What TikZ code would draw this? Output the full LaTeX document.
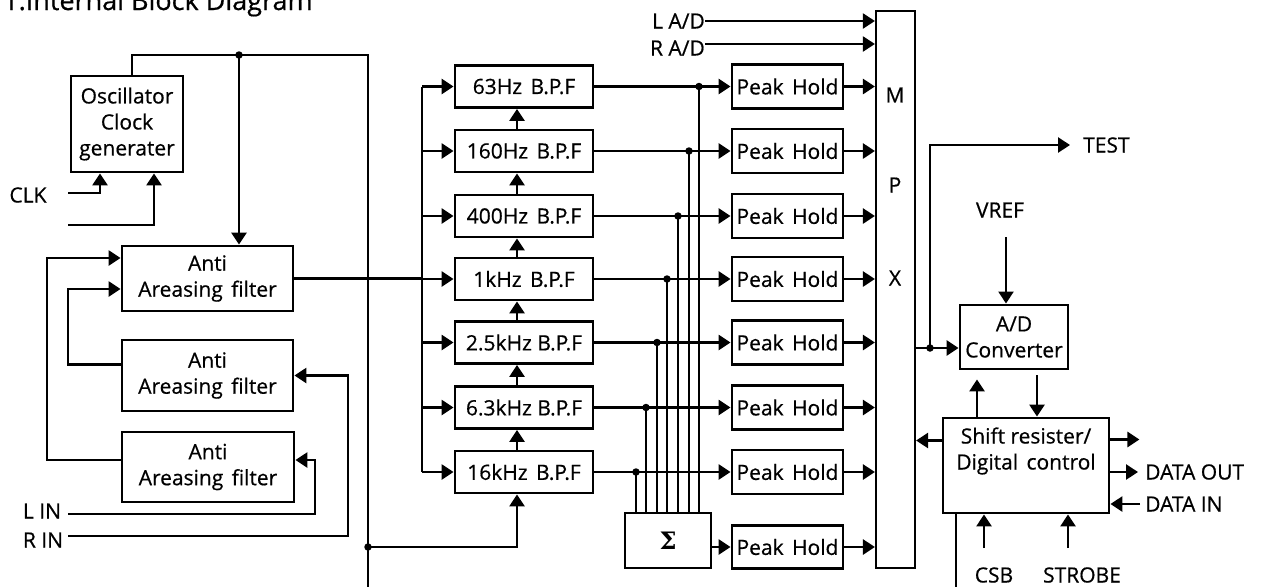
\documentclass[tikz,border=0pt]{standalone}
\usepackage{fontspec}
\setmainfont{Open Sans}[FakeBold=0.6]
\newfontfamily\sigfont{DejaVu Serif}
\usetikzlibrary{arrows.meta,calc}
\begin{document}
\begin{tikzpicture}[x=1pt,y=-1pt,
 every node/.style={font=\fontsize{21}{26}\selectfont},
 blk/.style={draw,line width=2.9pt,inner sep=0pt,align=center},
 ln/.style={line width=2.7pt},
 arr/.style={ln,-{Triangle[length=12pt,width=15pt]}},
 dotn/.style={circle,fill,inner sep=0pt,minimum size=7.5pt},
 lbl/.style={inner sep=0pt}]
\useasboundingbox (0,0) rectangle (1277,587);
\node[lbl,anchor=base west,font=\fontsize{27}{30}\selectfont] (title) at (3,10) {1.Internal Block Diagram};

% blocks
\node[blk,minimum width=112pt,minimum height=96pt] (osc) at (127,124) {Oscillator\\Clock\\generater};
\node[blk,minimum width=171pt,minimum height=65pt] (aa1) at (207.5,278.5) {Anti\\Areasing\hspace{0.4em}filter};
\node[blk,minimum width=171pt,minimum height=71pt] (aa2) at (207.5,375.5) {Anti\\Areasing\hspace{0.4em}filter};
\node[blk,minimum width=172pt,minimum height=70pt] (aa3) at (208,467) {Anti\\Areasing\hspace{0.4em}filter};

\foreach \i/\t/\yy in {1/63Hz\hspace{0.4em}B.P.F/86.5, 2/160Hz\hspace{0.4em}B.P.F/151, 3/400Hz\hspace{0.4em}B.P.F/216, 4/1kHz\hspace{0.4em}B.P.F/279, 5/2.5kHz B.P.F/342.5, 6/6.3kHz B.P.F/407.5, 7/16kHz\hspace{0.4em}B.P.F/472}{
  \node[blk,minimum width=138pt,minimum height=42pt] (bpf\i) at (524,\yy) {\t};
  \node[blk,minimum width=111pt,minimum height=44pt] (ph\i) at (787.5,\yy) {Peak\hspace{0.4em}Hold};
}
\node[blk,minimum width=111pt,minimum height=43pt] (ph8) at (787.5,547) {Peak\hspace{0.4em}Hold};
\node[blk,minimum width=86pt,minimum height=55pt,font=\sigfont\bfseries\fontsize{24}{26}\selectfont] (sig) at (668,540.5) {Σ};
\node[blk,line width=2.2pt,minimum width=39pt,minimum height=557pt] (mpx) at (895.5,289.5) {};
\node[lbl] (mM) at (895,95) {M};
\node[lbl] (mP) at (895,185) {P};
\node[lbl] (mX) at (895,278) {X};
\node[blk,minimum width=108pt,minimum height=64pt] (adc) at (1014,337) {A/D\\Converter};
\node[blk,minimum width=166pt,minimum height=95pt] (sr) at (1026,465.5) {};
\node[lbl,align=center] (srt) at (1026,451) {Shift resister/\\Digital\hspace{0.4em}control};

% labels
\node[lbl] (clk) at (28,195) {CLK};
\node[lbl] (lin) at (42,511) {L IN};
\node[lbl] (rin) at (43,540) {R IN};
\node[lbl,anchor=east] (lad) at (705,21) {L A/D};
\node[lbl,anchor=east] (rad) at (705,48) {R A/D};
\node[lbl,anchor=west] (test) at (1083,145) {TEST};
\node[lbl] (vref) at (1000,210) {VREF};
\node[lbl,anchor=west] (dout) at (1145,472) {DATA OUT};
\node[lbl,anchor=west] (din) at (1145,504) {DATA IN};
\node[lbl] (csb) at (994,575) {CSB};
\node[lbl] (strobe) at (1082,575) {STROBE};

% coordinates
\coordinate (o1) at (132,0);
\coordinate (jt) at (239,55);
\coordinate (tr) at (368,55);
\coordinate (vb) at (368,587);
\coordinate (j547) at (368,547);
\coordinate (cx1) at (100,0);
\coordinate (cx2) at (154,0);
\coordinate (c1) at (68,193);
\coordinate (c2) at (68,225);
\coordinate (lx1) at (47,258);
\coordinate (lx2) at (68,289);
\coordinate (bus) at (422,0);
\coordinate (bx) at (517,0);
\coordinate (lins) at (68,514);
\coordinate (linx) at (315,0);
\coordinate (rins) at (68,536);
\coordinate (rinx) at (348,0);

% left part
\draw[ln] (osc.north -| o1) |- (tr) -- (vb);
\node[dotn] (d0) at (jt) {};
\draw[arr] (jt) -- (aa1.north -| jt);
\draw[arr] (c1) -| (osc.south -| cx1);
\draw[arr] (c2) -| (osc.south -| cx2);
\draw[arr] ($(aa3.west)+(0,-7)$) -| (lx1) -- (aa1.west |- lx1);
\draw[arr] ($(aa2.west)+(0,-11)$) -| (lx2) -- (aa1.west |- lx2);
\draw[arr] (lins) -| ($(aa3.east -| linx)+(0,-7)$) -- ($(aa3.east)+(0,-7)$);
\draw[arr] (rins) -| (aa2.east -| rinx) -- (aa2.east);
\draw[ln] (aa1.east) -- (aa1.east -| bus);
\draw[ln] (bpf1.west -| bus) -- (bpf7.west -| bus);
\node[dotn] (d8) at (j547) {};
\draw[arr] (j547) -| (bpf7.south -| bx);

% filter bank
\foreach \i/\dd in {1/699,2/689,3/678,4/667,5/657,6/646,7/636}{
  \draw[arr] (bpf\i.west -| bus) -- (bpf\i.west);
  \draw[arr] (bpf\i.east) -- (ph\i.west);
  \draw[arr] (ph\i.east) -- (ph\i.east -| mpx.west);
  \coordinate (dx\i) at (\dd,0);
  \node[dotn] (dd\i) at (bpf\i.east -| dx\i) {};
  \draw[ln] (bpf\i.east -| dx\i) -- (sig.north -| dx\i);
}
\foreach \i/\j in {1/2,2/3,3/4,4/5,5/6,6/7}{
  \draw[arr] (bpf\j.north -| bx) -- (bpf\i.south -| bx);
}
\draw[arr] (sig.east |- ph8.west) -- (ph8.west);
\draw[arr] (ph8.east) -- (ph8.east -| mpx.west);
\draw[arr,line width=2.2pt] (lad.east) -- (lad.east -| mpx.west);
\draw[arr,line width=2.2pt] ($(rad.east)+(0,-4)$) -- ($(rad.east -| mpx.west)+(0,-4)$);

% right part
\coordinate (ain) at ($(adc.west)+(0,11)$);
\coordinate (tx) at (930,0);
\draw[arr] (mpx.east |- ain) -- (ain);
\node[dotn] (d9) at (ain -| tx) {};
\draw[arr] (ain -| tx) |- ($(test.west)+(-13,0)$);
\coordinate (vs) at (1006,237);
\draw[arr,line width=2.2pt] (vs) -- (adc.north -| vs);
\coordinate (ux) at (977,0);
\coordinate (dnx) at (1037,0);
\draw[arr,shorten >=9pt] (sr.north -| ux) -- (adc.south -| ux);
\draw[arr,shorten <=5pt] (adc.south -| dnx) -- (sr.north -| dnx);
\draw[arr] ($(sr.west)+(0,-25)$) -- ($(sr.west -| mpx.east)+(0,-25)$);
\draw[arr] ($(sr.east)+(0,-26)$) -- ++(29,0);
\draw[arr] (sr.east |- dout.west) -- ($(dout.west)+(-7,0)$);
\draw[arr] ($(din.west)+(-5,0)$) -- (sr.east |- din.west);
\coordinate (cs) at (984,548);
\coordinate (st) at (1068,548);
\draw[arr] (cs) -- (sr.south -| cs);
\draw[arr] (st) -- (sr.south -| st);
\coordinate (sx) at (956,587);
\draw[ln] (sr.south -| sx) -- (sx);
\end{tikzpicture}
\end{document}
